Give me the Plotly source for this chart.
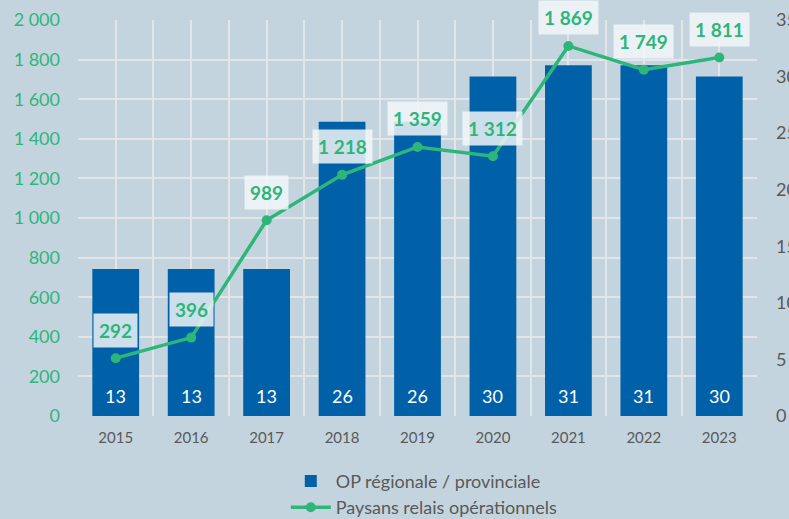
import plotly.graph_objects as go

years = [2015, 2016, 2017, 2018, 2019, 2020, 2021, 2022, 2023]
op_regionale = [13, 13, 13, 26, 26, 30, 31, 31, 30]
paysans_relais = [292, 396, 989, 1218, 1359, 1312, 1869, 1749, 1811]
left_ticks = [0, 200, 400, 600, 800, 1000, 1200, 1400, 1600, 1800, 2000]
right_ticks = [0, 5, 10, 15, 20, 25, 30, 35]

BG = "rgb(195,212,222)"
BLUE = "rgb(0,97,168)"
GREEN = "rgb(46,182,122)"
GRAY = "rgb(89,89,89)"
GRID = "rgb(226,230,233)"
FONT = "Lato"

def fmt(v):
    return f"{v:,}".replace(",", " ")

fig = go.Figure()
fig.add_trace(go.Bar(
    x=years, y=op_regionale, name="OP régionale / provinciale",
    marker=dict(color=BLUE, line=dict(width=0)), width=0.62,
    yaxis="y", hoverinfo="skip"))
fig.add_trace(go.Scatter(
    x=years, y=paysans_relais, name="Paysans relais opérationnels",
    mode="lines+markers", line=dict(color=GREEN, width=3.5),
    marker=dict(color=GREEN, size=10), yaxis="y2"))

annotations = []
for x, v in zip(years, op_regionale):
    annotations.append(dict(x=x, y=0, xref="x", yref="y", text=str(v),
                            showarrow=False, yshift=20,
                            font=dict(color="white", size=18, family=FONT)))
for x, v in zip(years, paysans_relais):
    annotations.append(dict(x=x, y=v, xref="x", yref="y2", text=f"<b>{fmt(v)}</b>",
                            showarrow=False, yshift=28,
                            bgcolor="rgba(242,246,248,0.85)", borderpad=5,
                            font=dict(color=GREEN, size=19, family=FONT)))

fig.update_layout(
    width=789, height=519,
    paper_bgcolor=BG, plot_bgcolor=BG,
    margin=dict(l=78, r=32, t=20, b=103, pad=0, autoexpand=False),
    font=dict(family=FONT, color=GRAY),
    showlegend=True,
    legend=dict(orientation="v", x=0.51, xanchor="center", y=-0.118, yanchor="top",
                font=dict(size=18, color=GRAY, family=FONT), bgcolor="rgba(0,0,0,0)",
                tracegroupgap=0, itemwidth=40),
    xaxis=dict(type="linear", range=[2014.5, 2023.5], tickmode="linear", tick0=2015, dtick=1,
               tickformat="d", showgrid=True, gridcolor=GRID, gridwidth=1.5,
               minor=dict(dtick=0.5, tick0=2014.5, showgrid=True, gridcolor=GRID, gridwidth=1.5),
               zeroline=False, showline=False, ticks="", automargin=False,
               ticklabelstandoff=11,
               tickfont=dict(size=15, color=GRAY, family=FONT)),
    yaxis=dict(side="right", range=[0, 35], tickvals=right_ticks, showgrid=False,
               zeroline=False, ticklabelstandoff=18, automargin=False,
               tickfont=dict(size=18, color=GRAY, family=FONT)),
    yaxis2=dict(side="left", overlaying="y", range=[0, 2000], tickvals=left_ticks,
                ticktext=[fmt(t) for t in left_ticks], showgrid=True, gridcolor=GRID,
                gridwidth=1.5, zeroline=False, ticklabelstandoff=17, automargin=False,
                tickfont=dict(size=18, color=GREEN, family=FONT)),
    annotations=annotations,
)

fig.write_html("out.html", config={"displayModeBar": False},
               post_script="document.body.style.margin='0';document.body.style.padding='0';")
